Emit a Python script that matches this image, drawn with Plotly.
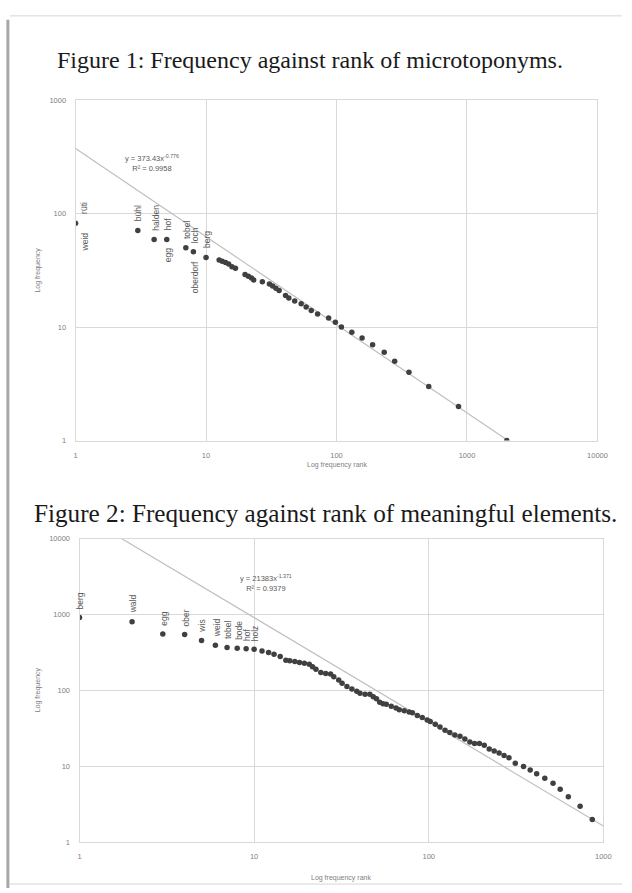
import numpy as np
import plotly.graph_objects as go

# ---------------- data ----------------
fig1_ranks = [1, 3, 4, 5, 7, 8, 10, 12.6, 13.3, 14.1, 14.9, 15.8, 16.8, 19.9, 21.1, 22.3, 23.2,
              27, 30.6, 32.4, 34.3, 36.3, 40.7, 43.1, 47.8, 53.6, 58.5, 64, 71.6, 87, 98, 109,
              131, 157, 189, 232, 279, 359, 509, 861, 2020]
fig1_freqs = [82, 71, 59, 59, 50, 46, 41, 39, 38, 37, 36, 34, 33, 29, 28, 27, 26,
              25, 24, 23, 22, 21, 19, 18, 17, 16, 15, 14, 13, 12, 11, 10,
              9, 8, 7, 6, 5, 4, 3, 2, 1]

fig2_ranks = [1, 2, 3, 4, 5, 6, 7, 8, 9, 10,
              11.1, 12.1, 13.0, 14.1, 15.2, 16.0, 17.1, 18.2, 19.4, 20.7,
              21.6, 22.6, 24.1, 25.7, 27.4, 28.6, 30.5, 31.9, 34.0, 36.3,
              38.7, 40.4, 43.2, 46.0, 48.1, 50.2, 52.4, 54.7, 57.1, 61.0,
              65.0, 67.8, 72.4, 77.2, 80.6, 86.0, 91.8, 98.0, 102, 109,
              116, 124, 132, 141, 151, 161, 172, 183, 195, 208,
              222, 237, 253, 270, 288, 313, 349, 381, 415, 462,
              515, 566, 630, 736, 864]
fig2_freqs = [912, 803, 555, 548, 454, 394, 368, 361, 354, 350,
              332, 316, 300, 280, 251, 246, 241, 234, 229, 222,
              205, 191, 173, 168, 165, 152, 138, 125, 113, 105,
              98, 92, 89, 89, 83, 78, 70, 67, 66, 62,
              59, 56, 54, 52, 51, 47, 44, 41, 39, 36,
              33, 30, 28, 26, 25, 23, 21, 20, 20, 19,
              17, 16, 15, 14, 13, 11, 10, 9, 8, 7,
              6, 5, 4, 3, 2]

fig1_labels = ["rüti", "weid", "bühl", "halden", "hof", "egg", "tobel", "loch", "oberdorf", "berg"]
fig1_label_ranks = [1, 1, 3, 4, 5, 5, 7, 8, 8, 10]
fig1_label_sides = ["above", "below", "above", "above", "above", "below", "above", "above", "below", "above"]

fig2_labels = ["berg", "wald", "egg", "ober", "wis", "weid", "tobel", "bode", "hof", "holz"]
fig2_label_ranks = [1, 2, 3, 4, 5, 6, 7, 8, 9, 10]

fit1_a, fit1_b, fit1_r2 = 373.43, -0.776, "0.9958"
fit2_a, fit2_b, fit2_r2 = 21383, -1.371, "0.9379"
fit1_xrange = [1, 2020]
fit2_xrange = [1, 1000]

fig1_xticks = [1, 10, 100, 1000, 10000]
fig1_yticks = [1, 10, 100, 1000]
fig2_xticks = [1, 10, 100, 1000]
fig2_yticks = [1, 10, 100, 1000, 10000]

# ---------------- figure ----------------
W, H = 632, 893
def px(x):
    return x / W
def py(y):
    return 1 - y / H

MARK = "#404040"
TREND = "#bfbfbf"
GRID = "#d9d9d9"
TXT = "#595959"
TICK = "#808080"
SANS = "Liberation Sans"
SERIF = "Liberation Serif"

fig = go.Figure()

fig.add_trace(go.Scatter(x=fit1_xrange, y=[fit1_a * v ** fit1_b for v in fit1_xrange],
                         mode="lines", line=dict(color=TREND, width=1.2),
                         xaxis="x", yaxis="y", hoverinfo="skip"))
fig.add_trace(go.Scatter(x=fig1_ranks, y=fig1_freqs, mode="markers",
                         marker=dict(color=MARK, size=5.5),
                         xaxis="x", yaxis="y"))
fig.add_trace(go.Scatter(x=fit2_xrange, y=[fit2_a * v ** fit2_b for v in fit2_xrange],
                         mode="lines", line=dict(color=TREND, width=1.2),
                         xaxis="x2", yaxis="y2", hoverinfo="skip"))
fig.add_trace(go.Scatter(x=fig2_ranks, y=fig2_freqs, mode="markers",
                         marker=dict(color=MARK, size=5.5),
                         xaxis="x2", yaxis="y2"))

def axis(domain, rng, ticks, anchor, standoff):
    return dict(type="log", domain=domain, range=rng, anchor=anchor,
                tickvals=ticks, ticktext=[str(t) for t in ticks],
                showgrid=True, gridcolor=GRID, gridwidth=1,
                showline=True, linecolor=GRID, linewidth=1, mirror=True,
                ticks="", zeroline=False, ticklabelstandoff=standoff,
                tickfont=dict(family=SANS, size=7.5, color=TICK))

fig.update_layout(
    width=W, height=H, margin=dict(l=0, r=0, t=0, b=0),
    paper_bgcolor="white", plot_bgcolor="white", showlegend=False,
    xaxis=axis([px(75), px(607)], [0, 4], fig1_xticks, "y", 7),
    yaxis=axis([py(441), py(97)], [0, 3], fig1_yticks, "x", 7),
    xaxis2=axis([px(79), px(613)], [0, 3], fig2_xticks, "y2", 7),
    yaxis2=axis([py(847), py(540)], [0, 4], fig2_yticks, "x2", 7),
)

ann = []
def paper_text(text, x, y, size, color, family=SANS, angle=0):
    ann.append(dict(text=text, x=px(x), y=py(y), xref="paper", yref="paper",
                    xanchor="center", yanchor="middle", showarrow=False, align="center",
                    textangle=angle, font=dict(family=family, size=size, color=color)))

# titles
paper_text("Figure 1: Frequency against rank of microtoponyms.", 314, 57, 24, "#1a1a1a", SERIF)
paper_text("Figure 2: Frequency against rank of meaningful elements.", 330, 515, 25.2, "#1a1a1a", SERIF)
# axis titles
paper_text("Log frequency rank", 341, 466, 7, TICK)
paper_text("Log frequency", 37, 269, 7, TICK, angle=-90)
paper_text("Log frequency rank", 346, 883, 7, TICK)
paper_text("Log frequency", 37, 693, 7, TICK, angle=-90)
# equations
paper_text("y = 373.43x<sup>-0.776</sup><br>R² = " + fit1_r2, 153, 161, 7.5, TXT)
paper_text("y = 21383x<sup>-1.371</sup><br>R² = " + fit2_r2, 269, 585, 7.5, TXT)

# data labels
f1 = dict(zip(fig1_ranks, fig1_freqs))
for lab, r, side in zip(fig1_labels, fig1_label_ranks, fig1_label_sides):
    above = side == "above"
    ann.append(dict(text=lab, x=np.log10(r), y=np.log10(f1[r]), xref="x", yref="y",
                    showarrow=False, textangle=-90, xanchor="center",
                    yanchor="bottom" if above else "top",
                    yshift=7 if above else -7, xshift=9 if r == 1 else 1,
                    font=dict(family=SANS, size=8.5, color=TXT)))
f2 = dict(zip(fig2_ranks, fig2_freqs))
for lab, r in zip(fig2_labels, fig2_label_ranks):
    ann.append(dict(text=lab, x=np.log10(r), y=np.log10(f2[r]), xref="x2", yref="y2",
                    showarrow=False, textangle=-90, xanchor="center", yanchor="bottom",
                    yshift=6, xshift=1,
                    font=dict(family=SANS, size=8.5, color=TXT)))
fig.update_layout(annotations=ann)

# page frame with shadow (kept inside the figure area)
fig.update_layout(shapes=[
    dict(type="line", xref="paper", yref="paper", x0=px(8), x1=1, y0=py(12), y1=py(12),
         line=dict(color="#d6d6d6", width=1), layer="below"),
    dict(type="line", xref="paper", yref="paper", x0=px(8), x1=1, y0=py(889), y1=py(889),
         line=dict(color="#d6d6d6", width=1), layer="below"),
    dict(type="line", xref="paper", yref="paper", x0=px(6), x1=px(6), y0=0, y1=py(16),
         line=dict(color="#a8a8a8", width=3), layer="below"),
])

fig.write_html("out.html")
